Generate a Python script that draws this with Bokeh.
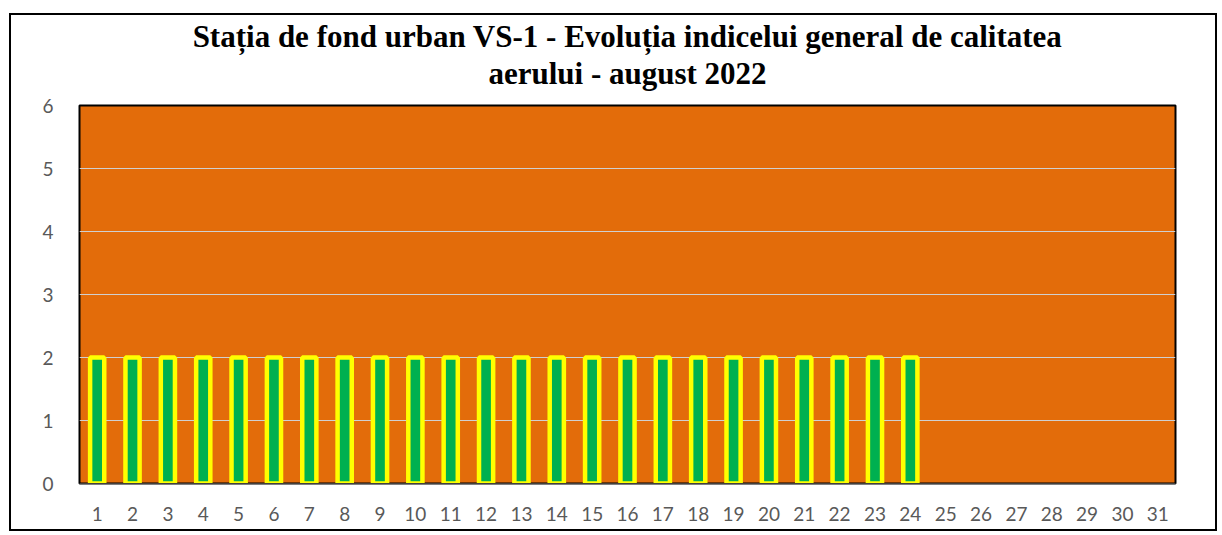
from bokeh.plotting import figure
from bokeh.models import Range1d, FactorRange, FixedTicker, Title
from bokeh.embed import file_html
from bokeh.resources import INLINE

days = ["1", "2", "3", "4", "5", "6", "7", "8", "9", "10", "11", "12", "13", "14", "15", "16",
        "17", "18", "19", "20", "21", "22", "23", "24", "25", "26", "27", "28", "29", "30", "31"]
measured_days = ["1", "2", "3", "4", "5", "6", "7", "8", "9", "10", "11", "12",
                 "13", "14", "15", "16", "17", "18", "19", "20", "21", "22", "23", "24"]
index_values = [2, 2, 2, 2, 2, 2, 2, 2, 2, 2, 2, 2, 2, 2, 2, 2, 2, 2, 2, 2, 2, 2, 2, 2]
y_ticks = [0, 1, 2, 3, 4, 5, 6]
title_line1 = "Stația de fond urban VS-1 - Evoluția indicelui general de calitatea"
title_line2 = "aerului - august 2022"

p = figure(
    x_range=FactorRange(factors=days, range_padding=0),
    y_range=Range1d(0, 6),
    width=1208, height=518,
    output_backend="svg", toolbar_location=None,
    min_border_left=68, min_border_right=44, min_border_top=90, min_border_bottom=50,
)
p.styles = {"border": "2px solid black", "margin-top": "13px", "margin-left": "9px"}

p.title.visible = False
for txt, stand in ((title_line2, 26), (title_line1, -27)):
    p.add_layout(Title(text=txt, text_font="Liberation Serif", text_font_style="bold",
                       text_font_size="31px", align="center", vertical_align="top",
                       text_color="black", standoff=stand), "above")

p.background_fill_color = "#E36C0A"
p.border_fill_color = "white"
p.outline_line_color = "black"
p.outline_line_width = 2

p.vbar(x=measured_days, top=index_values, bottom=0, width=0.4,
       fill_color="#00B050", line_color="#FFFF00", line_width=4.5)

p.xgrid.visible = False
p.ygrid.ticker = FixedTicker(ticks=y_ticks)
p.ygrid.grid_line_color = "#D0D0D0"
p.ygrid.grid_line_width = 1

p.yaxis.ticker = FixedTicker(ticks=y_ticks)
for ax in (p.xaxis[0], p.yaxis[0]):
    ax.major_tick_line_color = None
    ax.minor_tick_line_color = None
    ax.major_label_text_font = "Lato"
    ax.major_label_text_font_size = "19px"
    ax.major_label_text_color = "#595959"
p.yaxis.axis_line_color = None
p.yaxis.major_label_standoff = 20
p.xaxis.axis_line_color = "#404040"
p.xaxis.axis_line_width = 1
p.xaxis.major_label_standoff = 17

open("out.html", "w").write(file_html(p, INLINE))
